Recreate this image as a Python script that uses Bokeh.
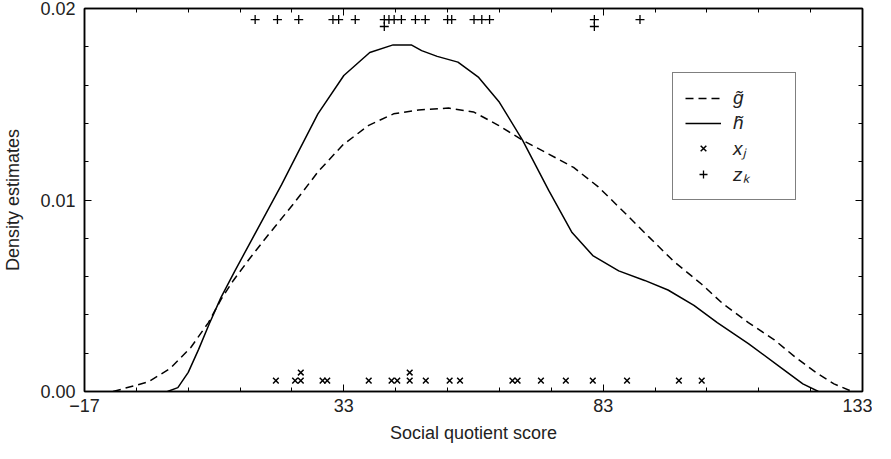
from collections import Counter
from bokeh.plotting import figure
from bokeh.models import (FixedTicker, LinearAxis, Legend, LegendItem, Range1d,
                          PrintfTickFormatter)
from bokeh.embed import file_html
from bokeh.resources import INLINE

# ---- data ----
g_x = [-11.5, -4.7, -0.5, 3.5, 6.9, 9.3, 11.7, 15.0, 18.5, 23.3, 28.1, 32.9, 37.8,
       42.6, 47.4, 53.2, 58.0, 62.8, 67.6, 72.5, 77.3, 82.0, 86.9, 91.7, 96.6, 102.0,
       106.0, 111.0, 116.0, 120.0, 124.0, 127.5, 131.0]
g_y = [0.0, 0.0005, 0.0012, 0.0023, 0.0036, 0.0048, 0.0058, 0.0070, 0.0082, 0.0098,
       0.0115, 0.0129, 0.0139, 0.0145, 0.0147, 0.0148, 0.0146, 0.0139, 0.0131, 0.0124,
       0.0117, 0.0107, 0.0094, 0.0081, 0.0068, 0.0056, 0.0046, 0.0036, 0.0027, 0.0018,
       0.0010, 0.0004, 0.0]

h_x = [-1, 1, 3, 5, 7, 9.3, 12, 15, 18, 21, 24, 28, 33, 38, 42.5, 46, 48, 51, 55, 59,
       63, 67.5, 72.5, 77, 81, 86, 91, 95.5, 100.5, 105, 111, 117, 121.5, 124.5]
h_y = [0.0, 0.0002, 0.0010, 0.0022, 0.0035, 0.0049, 0.0063, 0.0078, 0.0093, 0.0108,
       0.0124, 0.0145, 0.0165, 0.0177, 0.0181, 0.0181, 0.0178, 0.0175, 0.0172, 0.0164,
       0.0151, 0.0131, 0.0105, 0.0083, 0.0071, 0.0063, 0.0058, 0.0053, 0.0045, 0.0036,
       0.0025, 0.0013, 0.0004, 0.0]

x_j = [19.9, 23.6, 24.7, 24.7, 28.9, 29.8, 37.8, 42.2, 43.3, 45.7, 45.7, 48.8, 53.4,
       55.4, 65.5, 66.5, 71.0, 75.8, 81.0, 87.6, 97.6, 102.0]
z_k = [15.9, 20.2, 24.3, 30.9, 32.0, 35.2, 40.8, 40.8, 41.7, 42.7, 44.1, 46.8, 48.7,
       53.0, 53.8, 58.1, 59.6, 61.1, 81.3, 81.3, 90.1]

x_major = [-17, 33, 83, 133]
x_minor = [-7, 3, 13, 23, 43, 53, 63, 73, 93, 103, 113, 123]
y_major = [0.0, 0.01, 0.02]
y_minor = [0.002, 0.004, 0.006, 0.008, 0.012, 0.014, 0.016, 0.018]

legend_labels = ["g\u0303", "h\u0303", "x\u2c7c", "z\u2096"]

# ---- rug levels (stack duplicates) ----
def stack(vals, base, step):
    seen = Counter()
    ys = []
    for v in vals:
        ys.append(base + step * seen[v])
        seen[v] += 1
    return ys

xj_y = stack(x_j, 0.00057, 0.00042)
zk_y = stack(z_k, 0.01942, -0.00036)

FONT = "Liberation Sans"
FS = "18px"

p = figure(frame_width=778, frame_height=383,
           x_range=Range1d(-17, 133), y_range=Range1d(0, 0.02),
           output_backend="svg", toolbar_location=None,
           min_border_left=80, min_border_top=8, min_border_right=10,
           min_border_bottom=40, background_fill_color="white")
p.grid.visible = False
p.outline_line_color = "black"
p.outline_line_width = 1.5

xt = FixedTicker(ticks=x_major, minor_ticks=x_minor)
yt = FixedTicker(ticks=y_major, minor_ticks=y_minor)

def style_axis(ax, ticker, labels=True):
    ax.ticker = ticker
    ax.axis_line_color = "black"
    ax.axis_line_width = 1.5
    ax.major_tick_in = 7
    ax.major_tick_out = 0
    ax.minor_tick_in = 4
    ax.minor_tick_out = 0
    ax.major_tick_line_color = "black"
    ax.minor_tick_line_color = "black"
    ax.major_tick_line_width = 1
    ax.minor_tick_line_width = 1
    if labels:
        ax.major_label_text_font = FONT
        ax.major_label_text_font_size = FS
        ax.major_label_text_color = "#222222"
        ax.axis_label_text_font = FONT
        ax.axis_label_text_font_size = FS
        ax.axis_label_text_font_style = "normal"
        ax.axis_label_text_color = "#222222"
    else:
        ax.major_label_text_font_size = "0px"
        ax.major_label_standoff = 0

xa = p.xaxis[0]
style_axis(xa, xt)
xa.axis_label = "Social quotient score"
xa.major_label_overrides = {-17: "\u221217"}
xa.major_label_standoff = 7
xa.axis_label_standoff = 8

ya = p.yaxis[0]
style_axis(ya, yt)
ya.axis_label = "Density estimates"
ya.formatter = PrintfTickFormatter(format="%.2f")
ya.major_label_standoff = 9
ya.axis_label_standoff = 14

top = LinearAxis()
style_axis(top, xt, labels=False)
p.add_layout(top, "above")
right = LinearAxis()
style_axis(right, yt, labels=False)
p.add_layout(right, "right")

rg = p.line(g_x, g_y, line_color="black", line_width=1.5, line_dash="8 5")
rh = p.line(h_x, h_y, line_color="black", line_width=1.5)
rx = p.scatter(x_j, xj_y, marker="x", size=8, line_color="black", line_width=1.5)
rz = p.scatter(z_k, zk_y, marker="cross", size=9, line_color="black", line_width=1.3)

legend = Legend(items=[LegendItem(label=legend_labels[0], renderers=[rg]),
                       LegendItem(label=legend_labels[1], renderers=[rh]),
                       LegendItem(label=legend_labels[2], renderers=[rx]),
                       LegendItem(label=legend_labels[3], renderers=[rz])],
                location=(588, 191))
legend.border_line_color = "black"
legend.border_line_width = 1.5
legend.background_fill_alpha = 1
legend.label_text_font = FONT
legend.label_text_font_size = "19px"
legend.label_text_font_style = "italic"
legend.label_text_color = "#222222"
legend.glyph_width = 36
legend.glyph_height = 20
legend.label_height = 25
legend.label_width = 50
legend.label_standoff = 12
legend.spacing = 0
legend.padding = 12
legend.margin = 0
p.add_layout(legend, "center")

open("out.html", "w").write(file_html(p, INLINE))
